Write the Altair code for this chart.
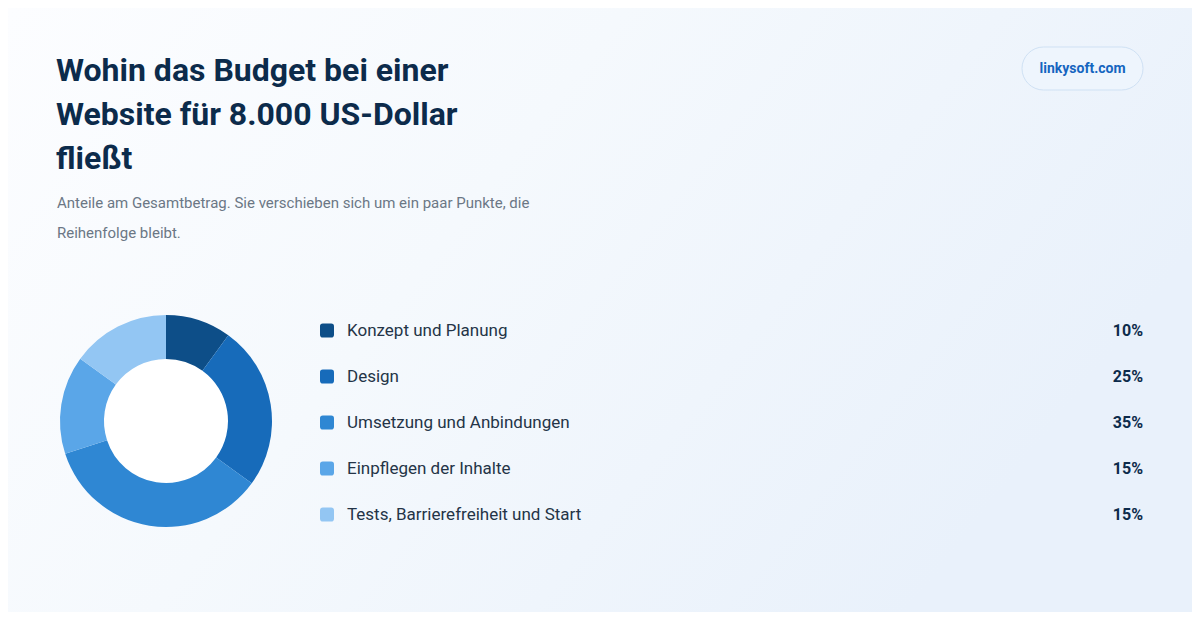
import altair as alt
import pandas as pd

categories = ["Konzept und Planung", "Design", "Umsetzung und Anbindungen",
              "Einpflegen der Inhalte", "Tests, Barrierefreiheit und Start"]
shares = [10, 25, 35, 15, 15]
colors = ["#0d4e88", "#176bba", "#2f87d3", "#5aa6e8", "#93c6f3"]

title_lines = ["Wohin das Budget bei einer", "Website für 8.000 US-Dollar", "fließt"]
subtitle_lines = ["Anteile am Gesamtbetrag. Sie verschieben sich um ein paar Punkte, die",
                  "Reihenfolge bleibt."]
badge = "linkysoft.com"

FONT = "Roboto"
W, H = 1184, 604

df = pd.DataFrame({
    "category": categories,
    "share": shares,
    "order": list(range(len(categories))),
})
df["pct"] = [f"{v}%" for v in shares]

color = alt.Color("category:N", scale=alt.Scale(domain=categories, range=colors), legend=None)
one = pd.DataFrame({"k": [0]})

bg = alt.Chart(one).mark_rect(
    fill=alt.Gradient(gradient="linear",
                      stops=[alt.GradientStop(color="#fcfdff", offset=0),
                             alt.GradientStop(color="#f5f9fd", offset=0.45),
                             alt.GradientStop(color="#e9f1fb", offset=1)],
                      x1=0, y1=0, x2=1, y2=0.4)
).encode(x=alt.value(0), x2=alt.value(W), y=alt.value(0), y2=alt.value(H))

hole = alt.Chart(one).mark_arc(
    theta=0, theta2=6.2832, radius=64, fill="#ffffff"
).encode(x=alt.value(158), y=alt.value(413))

donut = alt.Chart(df).mark_arc(radius=106, radius2=62).encode(
    theta=alt.Theta("share:Q", stack=True),
    order=alt.Order("order:Q"),
    color=color,
    x=alt.value(158), y=alt.value(413),
)

ypos = alt.Y("order:Q", scale=alt.Scale(domain=[0, 4], range=[322.5, 506.5]), axis=None)

swatch = alt.Chart(df).mark_point(
    shape="M -1 -0.6 Q -1 -1 -0.6 -1 L 0.6 -1 Q 1 -1 1 -0.6 L 1 0.6 Q 1 1 0.6 1 L -0.6 1 Q -1 1 -1 0.6 Z",
    filled=True, size=196, opacity=1, strokeWidth=0,
).encode(x=alt.value(319), y=ypos, color=color)

labels = alt.Chart(df).mark_text(
    align="left", baseline="middle", font=FONT, fontSize=17, color="#243447"
).encode(x=alt.value(339), y=ypos, text="category:N")

pcts = alt.Chart(df).mark_text(
    align="right", baseline="middle", font=FONT, fontSize=16, fontWeight="bold", color="#0c2b4b"
).encode(x=alt.value(1135), y=ypos, text="pct:N")

title = alt.Chart(one).mark_text(
    text=title_lines, align="left", baseline="alphabetic", font=FONT, fontSize=32,
    fontWeight="bold", color="#0c2b4b", lineHeight=44,
).encode(x=alt.value(48), y=alt.value(73))

subtitle = alt.Chart(one).mark_text(
    text=subtitle_lines, align="left", baseline="alphabetic", font=FONT, fontSize=15,
    color="#6b7785", lineHeight=30,
).encode(x=alt.value(49), y=alt.value(200))

badge_rect = alt.Chart(one).mark_rect(
    cornerRadius=21.5, fill="#eef5fd", stroke="#cfe1f4", strokeWidth=1
).encode(x=alt.value(1014), x2=alt.value(1135), y=alt.value(39), y2=alt.value(82))

badge_text = alt.Chart(one).mark_text(
    text=badge, align="center", baseline="middle", font=FONT, fontSize=14,
    fontWeight="bold", color="#1565c0",
).encode(x=alt.value(1074.5), y=alt.value(61))

chart = alt.layer(
    bg, hole, donut, swatch, labels, pcts, title, subtitle, badge_rect, badge_text
).properties(
    width=W, height=H, padding=0,
    autosize=alt.AutoSizeParams(type="fit", contains="padding"),
    background="#f6f9fd",
).configure_view(stroke=None)

chart.save("out.html", embed_options={"renderer": "svg", "actions": False})
